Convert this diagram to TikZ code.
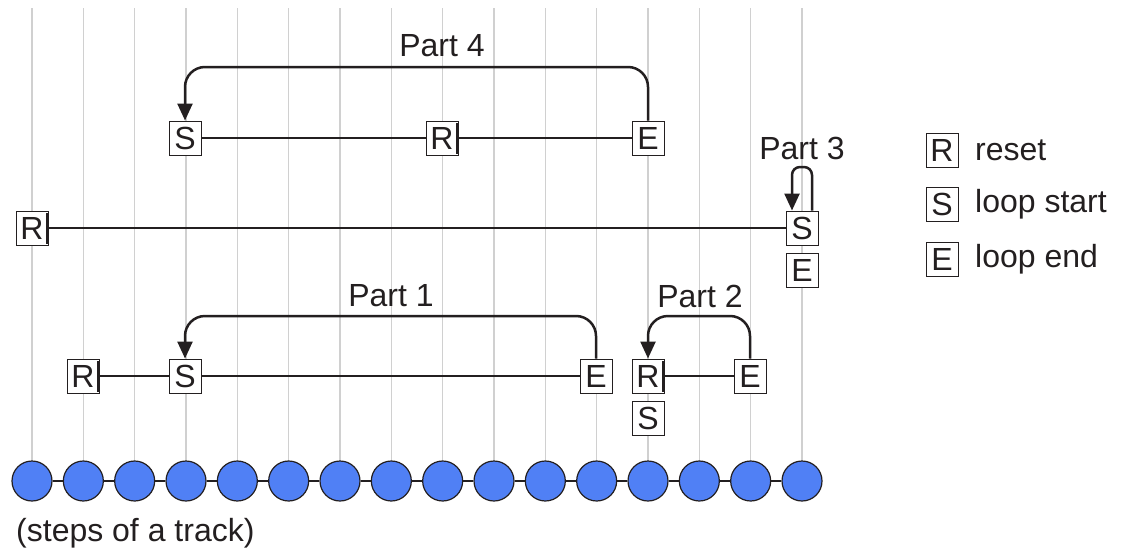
\documentclass[tikz,border=0pt]{standalone}
\usepackage{fontspec}
\setmainfont{Liberation Sans}
\usetikzlibrary{arrows.meta}
\definecolor{stepblue}{HTML}{5080F5}
\definecolor{gridgray}{HTML}{D0D0D0}
\definecolor{ink}{HTML}{231F20}
\tikzset{
  mbox/.style={draw=ink, line width=1pt, fill=white, minimum width=32pt, minimum height=34pt, inner sep=0pt, font=\fontsize{32}{32}\selectfont, text=ink},
  lbl/.style={font=\fontsize{32}{32}\selectfont, text=ink, inner sep=0pt},
  conn/.style={draw=ink, line width=2.5pt},
  loopconn/.style={draw=ink, line width=2.5pt, rounded corners=20pt, -{Triangle[length=17pt,width=15pt]}},
  gridline/.style={draw=gridgray, line width=1.3pt},
  stepdot/.style={circle, draw=ink, line width=1.2pt, fill=stepblue, minimum size=40pt, inner sep=0pt},
  rbar/.style={draw=ink, line width=3pt}
}
\begin{document}
\begin{tikzpicture}[x=1pt,y=-1pt]
\useasboundingbox (0,0) rectangle (1126,554);
% grid lines
\foreach \i in {0,...,15} {
  \draw[gridline] (32+51.333*\i, 8) -- (32+51.333*\i, 480);
}
% steps
\foreach \i in {0,...,15} {
  \node[stepdot] (c\i) at (32+51.333*\i, 481) {};
}
\foreach \i [evaluate=\i as \j using int(\i+1)] in {0,...,14} {
  \draw[conn] (c\i.east) -- (c\j.west);
}
\node[lbl, anchor=west] (steps) at (16,533) {(steps of a track)};

% Part 4
\node[mbox] (p4S) at (185,138) {S};
\node[mbox] (p4R) at (442,138) {R};
\node[mbox] (p4E) at (648,138) {E};
\draw[conn] (p4S.east) -- (p4R.west);
\draw[conn] (p4R.east) -- (p4E.west);
\draw[rbar] ([xshift=-1.5pt,yshift=-2pt]p4R.north east) -- ([xshift=-1.5pt,yshift=2pt]p4R.south east);
\draw[loopconn] (p4E.north) -- (p4E.north |- 0,67) -- (p4S.north |- 0,67) -- (p4S.north);
\node[lbl] (l4) at (442,46) {Part 4};

% Part 3
\node[mbox] (r3) at (32,228) {R};
\node[mbox] (s3) at (802,228) {S};
\node[mbox] (e3) at (802,270) {E};
\draw[conn] (r3.east) -- (s3.west);
\draw[rbar] ([xshift=-1.5pt,yshift=-2pt]r3.north east) -- ([xshift=-1.5pt,yshift=2pt]r3.south east);
\draw[draw=ink, line width=2.5pt, rounded corners=8pt, -{Triangle[length=17pt,width=15pt]}]
  ([xshift=10pt]s3.north) -- ([xshift=10pt]s3.north |- 0,167) -- ([xshift=-10pt]s3.north |- 0,167) -- ([xshift=-10pt]s3.north);
\node[lbl] (l3) at (802,148) {Part 3};

% Part 1
\node[mbox] (r1) at (83,376) {R};
\node[mbox] (s1) at (185,376) {S};
\node[mbox] (e1) at (596,376) {E};
\draw[conn] (r1.east) -- (s1.west);
\draw[conn] (s1.east) -- (e1.west);
\draw[rbar] ([xshift=-1.5pt,yshift=-2pt]r1.north east) -- ([xshift=-1.5pt,yshift=2pt]r1.south east);
\draw[loopconn] (e1.north) -- (e1.north |- 0,316) -- (s1.north |- 0,316) -- (s1.north);
\node[lbl] (l1) at (391,296) {Part 1};

% Part 2
\node[mbox] (r2) at (648,376) {R};
\node[mbox] (s2) at (648,418) {S};
\node[mbox] (e2) at (750,376) {E};
\draw[conn] (r2.east) -- (e2.west);
\draw[rbar] ([xshift=-1.5pt,yshift=-2pt]r2.north east) -- ([xshift=-1.5pt,yshift=2pt]r2.south east);
\draw[loopconn] (e2.north) -- (e2.north |- 0,316) -- (r2.north |- 0,316) -- (r2.north);
\node[lbl] (l2) at (700,296) {Part 2};

% legend
\node[mbox] (kR) at (942,150) {R};
\node[mbox] (kS) at (942,204) {S};
\node[mbox] (kE) at (942,259) {E};
\node[lbl, anchor=west] (tR) at (975,150) {reset};
\node[lbl, anchor=west] (tS) at (975,204) {loop start};
\node[lbl, anchor=west] (tE) at (975,259) {loop end};
\end{tikzpicture}
\end{document}
